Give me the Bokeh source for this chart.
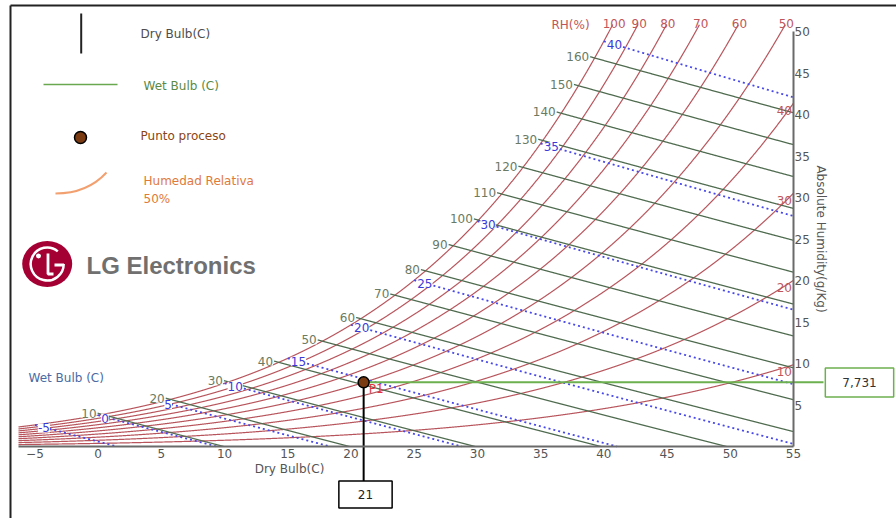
import numpy as np
from bokeh.plotting import figure
from bokeh.models import Range1d, Label, FixedTicker, LinearAxis
from bokeh.core.properties import value
from bokeh.embed import file_html
from bokeh.resources import INLINE

# ---------------- data ----------------
rh_levels = [10, 20, 30, 40, 50, 60, 70, 80, 90, 100]       # relative humidity curves (%)
rh_top_labels = [100, 90, 80, 70, 60, 50]                   # RH curves labelled at the top
rh_side_labels = [40, 30, 20, 10]                           # RH curves labelled at the right edge
enthalpy_levels = [10, 20, 30, 40, 50, 60, 70, 80, 90, 100, 110, 120, 130, 140, 150, 160]
wetbulb_levels = [-5, 0, 5, 10, 15, 20, 25, 30, 35, 40]
dry_bulb_ticks = [-5, 0, 5, 10, 15, 20, 25, 30, 35, 40, 45, 50, 55]
humidity_ticks = [5, 10, 15, 20, 25, 30, 35, 40, 45, 50]
process_dry_bulb = 21.0
process_humidity = 7.731
process_name = "P1"
process_dry_text = "21"
process_hum_text = "7,731"
P_ATM = 101.325

# ---------------- layout (chart area inside the canvas) ----------------
W_PX, H_PX = 896, 518
FL, FR, FT, FB = 18, 793, 31, 446
X0, X1 = -6.3, 55.0
Y0, Y1 = 0.0, 50.0
SX = (FR - FL) / (X1 - X0)
SY = (FB - FT) / (Y1 - Y0)


def dx(px):
    return X0 + (px - FL) / SX


def dy(py):
    return Y0 + (FB - py) / SY


XL, XR = dx(0), dx(W_PX)
YB, YT = dy(H_PX), dy(0)
FONT = "DejaVu Sans"


# ---------------- psychrometrics ----------------
def pws(t):
    return 0.61094 * np.exp(17.625 * t / (t + 243.04))


def w_of(t, rh=1.0):
    pw = rh * pws(t)
    return 622.0 * pw / (P_ATM - pw)


def h_sat(t):
    w = w_of(t) / 1000.0
    return 1.006 * t + w * (2501.0 + 1.86 * t)


def bisect(f, target, lo, hi):
    for _ in range(80):
        mid = 0.5 * (lo + hi)
        if f(mid) < target:
            lo = mid
        else:
            hi = mid
    return 0.5 * (lo + hi)


def t_for_w(wv, rh):
    return bisect(lambda t: w_of(t, rh), wv, -20.0, 80.0)


def t_sat_h(h):
    return bisect(h_sat, h, -20.0, 60.0)


def clip(t, w, wmax=Y1):
    keep = (t >= X0 - 1e-9) & (t <= X1 + 1e-9) & (w >= Y0 - 1e-9) & (w <= wmax + 1e-9)
    return t[keep], w[keep]


p = figure(width=W_PX, height=H_PX, x_range=Range1d(XL, XR), y_range=Range1d(YB, YT),
           output_backend="svg", toolbar_location=None, title=None,
           x_axis_type=None, y_axis_type=None,
           min_border=0, min_border_left=0, min_border_right=0,
           min_border_top=0, min_border_bottom=0,
           background_fill_color="white", border_fill_color="white",
           outline_line_color=None)

# axes drawn inside the canvas at the chart's edges
xa = LinearAxis(fixed_location=Y0, bounds=(X0, X1), ticker=FixedTicker(ticks=dry_bulb_ticks))
ya = LinearAxis(fixed_location=X1, bounds=(Y0, Y1), ticker=FixedTicker(ticks=humidity_ticks),
                axis_label="Absolute Humidity(g/Kg)")
p.add_layout(xa, "below")
p.add_layout(ya, "right")
for ax in (xa, ya):
    ax.axis_line_color = "#6a6a6a"
    ax.axis_line_width = 2
    ax.major_tick_line_color = None
    ax.minor_tick_line_color = None
    ax.major_tick_in = 0
    ax.major_tick_out = 0
    ax.minor_tick_in = 0
    ax.minor_tick_out = 0
    ax.major_label_text_color = "#555555"
    ax.major_label_text_font = FONT
    ax.major_label_text_font_size = "12px"
    ax.major_label_standoff = 2
ya.major_label_standoff = 1
ya.axis_label_text_font = FONT
ya.axis_label_text_font_size = "12px"
ya.axis_label_text_font_style = "normal"
ya.axis_label_text_color = "#555555"
ya.axis_label_standoff = 1

p.xgrid.ticker = FixedTicker(ticks=dry_bulb_ticks)
p.ygrid.ticker = FixedTicker(ticks=humidity_ticks)
p.grid.grid_line_color = "#c9c9c9"
p.grid.grid_line_width = 1.5

# white masks: grid only shows under the saturation curve, inside the chart
t_top = t_for_w(Y1, 1.0)
ts = np.linspace(X0, t_top, 300)
p.patch(list(ts) + [t_top, X0], list(w_of(ts)) + [Y1 + 0.12, Y1 + 0.12],
        fill_color="white", line_color=None)
p.quad(left=[XL, X1 + 0.1, XL, XL], right=[X0, XR, XR, XR],
       bottom=[YB, YB, Y1 + 0.1, YB], top=[YT, YT, YT, Y0],
       fill_color="white", line_color=None)

# RH curves (they run a little above the top edge, up to their labels)
tt = np.linspace(X0, X1 + 1, 4000)
rh_xs, rh_ys = [], []
for r in rh_levels:
    a, b = clip(tt, w_of(tt, r / 100.0), wmax=Y1 + 7.0 / SY)
    rh_xs.append(a)
    rh_ys.append(b)
p.multi_line(rh_xs, rh_ys, line_color="#b8555c", line_width=1.2)

# enthalpy lines
hx, hy, hlx, hly, hlt = [], [], [], [], []
for h in enthalpy_levels:
    ts_ = t_sat_h(h)
    ws_ = w_of(ts_)
    wv = np.linspace(ws_ + 0.15, 0, 3000)
    tv = (h - 2.501 * wv) / (1.006 + 0.00186 * wv)
    a, b = clip(tv, wv)
    hx.append(a)
    hy.append(b)
    hlx.append(tv[0] - 1.0 / SX)
    hly.append(wv[0])
    hlt.append(str(h))
p.multi_line(hx, hy, line_color="#506c50", line_width=1.3)

# wet bulb lines
wx, wy, wlx, wly, wlt = [], [], [], [], []
for twb in wetbulb_levels:
    ws = w_of(twb) / 1000.0
    tv = np.linspace(twb, X1 + 1, 4000)
    wv = 1000.0 * ((2501 - 2.326 * twb) * ws - 1.006 * (tv - twb)) / (2501 + 1.86 * tv - 4.186 * twb)
    a, b = clip(tv, wv)
    wx.append(a)
    wy.append(b)
    wlx.append(twb + 3.0 / SX)
    wly.append(w_of(twb) - 3.0 / SY)
    wlt.append(str(twb))
p.multi_line(wx, wy, line_color="#4646ea", line_width=1.8, line_dash="2 3")

# labels on curves
p.text(x=hlx, y=hly, text=hlt, text_align="right", text_baseline="middle",
       text_font=value(FONT), text_font_size="12px", text_color="#6b7a63",
       background_fill_color="white")
p.text(x=wlx, y=wly, text=wlt, text_align="left", text_baseline="middle",
       text_font=value(FONT), text_font_size="12px", text_color="#3a3ad8",
       background_fill_color="white")
p.text(x=[X1 - 1.5 / SX] * len(rh_side_labels),
       y=[w_of(X1, r / 100.0) - 7.0 / SY for r in rh_side_labels],
       text=[str(r) for r in rh_side_labels], text_align="right", text_baseline="middle",
       text_font=value(FONT), text_font_size="12px", text_color="#c0565a")
p.text(x=[t_for_w(Y1, r / 100.0) + 5.0 / SX for r in rh_top_labels],
       y=[Y1 + 8.0 / SY] * len(rh_top_labels),
       text=[str(r) for r in rh_top_labels], text_align="center", text_baseline="middle",
       text_font=value(FONT), text_font_size="12px", text_color="#c0565a")
p.add_layout(Label(x=dx(570), y=dy(24), text="RH(%)", text_align="center",
                   text_baseline="middle", text_font=FONT, text_font_size="12px",
                   text_color="#c0565a"))

# process point and read-outs
p.segment(x0=[process_dry_bulb], y0=[process_humidity], x1=[process_dry_bulb], y1=[dy(481)],
          line_color="black", line_width=2)
p.segment(x0=[process_dry_bulb], y0=[process_humidity], x1=[dx(823)], y1=[process_humidity],
          line_color="#6db04f", line_width=2)
p.scatter([process_dry_bulb], [process_humidity], size=11, fill_color="#7a3a12",
          line_color="black", line_width=1.5)
p.text(x=[process_dry_bulb + 5.0 / SX], y=[process_humidity - 7.0 / SY], text=[process_name],
       text_align="left", text_baseline="middle", text_font=value(FONT),
       text_font_size="12px", text_color="#e5343c")
p.add_layout(Label(x=dx(365), y=dy(494), text=process_dry_text, text_align="center",
                   text_baseline="middle", text_font=FONT, text_font_size="12px",
                   text_color="#222222", border_line_color="black", border_line_width=1.5,
                   background_fill_color="white",
                   padding=dict(left=19, right=19, top=9, bottom=9)))
p.add_layout(Label(x=dx(859), y=dy(382), text=process_hum_text, text_align="center",
                   text_baseline="middle", text_font=FONT, text_font_size="12px",
                   text_color="#333333", border_line_color="#6db04f", border_line_width=1.5,
                   background_fill_color="white",
                   padding=dict(left=17, right=17, top=10, bottom=10)))

# axis title / side texts
p.add_layout(Label(x=dx(289), y=dy(468), text="Dry Bulb(C)", text_align="center",
                   text_baseline="middle", text_font=FONT, text_font_size="12px",
                   text_color="#555555"))
p.add_layout(Label(x=dx(28), y=dy(377), text="Wet Bulb (C)", text_align="left",
                   text_baseline="middle", text_font=FONT, text_font_size="12px",
                   text_color="#4b6aa3"))

# legend block
p.segment(x0=[dx(80.7)], y0=[dy(13)], x1=[dx(80.7)], y1=[dy(53)],
          line_color="#222222", line_width=2)
p.add_layout(Label(x=dx(140), y=dy(33), text="Dry Bulb(C)", text_align="left",
                   text_baseline="middle", text_font=FONT, text_font_size="12px",
                   text_color="#4d4d4d"))
p.segment(x0=[dx(43)], y0=[dy(84)], x1=[dx(117)], y1=[dy(84)],
          line_color="#6aa84f", line_width=1.5)
p.add_layout(Label(x=dx(143), y=dy(85), text="Wet Bulb (C)", text_align="left",
                   text_baseline="middle", text_font=FONT, text_font_size="12px",
                   text_color="#5a8a45"))
p.scatter([dx(80)], [dy(137)], size=12, fill_color="#7a3a12", line_color="black", line_width=1.5)
p.add_layout(Label(x=dx(140), y=dy(135), text="Punto proceso", text_align="left",
                   text_baseline="middle", text_font=FONT, text_font_size="12px",
                   text_color="#8b4513"))
p.bezier(x0=[dx(55)], y0=[dy(193)], x1=[dx(106)], y1=[dy(172)],
         cx0=[dx(80)], cy0=[dy(193)], cx1=[dx(95)], cy1=[dy(184)],
         line_color="#f2a06f", line_width=2)
p.add_layout(Label(x=dx(143), y=dy(180), text="Humedad Relativa", text_align="left",
                   text_baseline="middle", text_font=FONT, text_font_size="12px",
                   text_color="#e07a3a"))
p.add_layout(Label(x=dx(143), y=dy(198), text="50%", text_align="left",
                   text_baseline="middle", text_font=FONT, text_font_size="12px",
                   text_color="#e07a3a"))

# LG logo
p.ellipse(x=[dx(46.7)], y=[dy(263.5)], width=50, height=46, width_units="screen",
          height_units="screen", fill_color="#a50034", line_color=None)
p.arc(x=[dx(46.7)], y=[dy(263.5)], radius=16.5, radius_units="screen",
      start_angle=np.radians(50), end_angle=np.radians(360), direction="anticlock",
      line_color="white", line_width=2.5)
p.scatter([dx(38)], [dy(255.5)], size=5, fill_color="white", line_color=None)
p.line([dx(47.5), dx(47.5), dx(53)], [dy(253), dy(273.5), dy(273.5)], line_color="white",
       line_width=2.8)
p.line([dx(54), dx(63.5)], [dy(264.5), dy(264.5)], line_color="white", line_width=2.8)
p.add_layout(Label(x=dx(86), y=dy(265), text="LG Electronics", text_align="left",
                   text_baseline="middle", text_font="Liberation Sans", text_font_size="24px",
                   text_font_style="bold", text_color="#707070"))

# outer picture frame (left and top edges)
p.segment(x0=[dx(10), dx(10)], y0=[dy(5), dy(5)], x1=[dx(10), dx(900)], y1=[dy(530), dy(5)],
          line_color="#222222", line_width=2)

open("out.html", "w").write(file_html(p, INLINE))
